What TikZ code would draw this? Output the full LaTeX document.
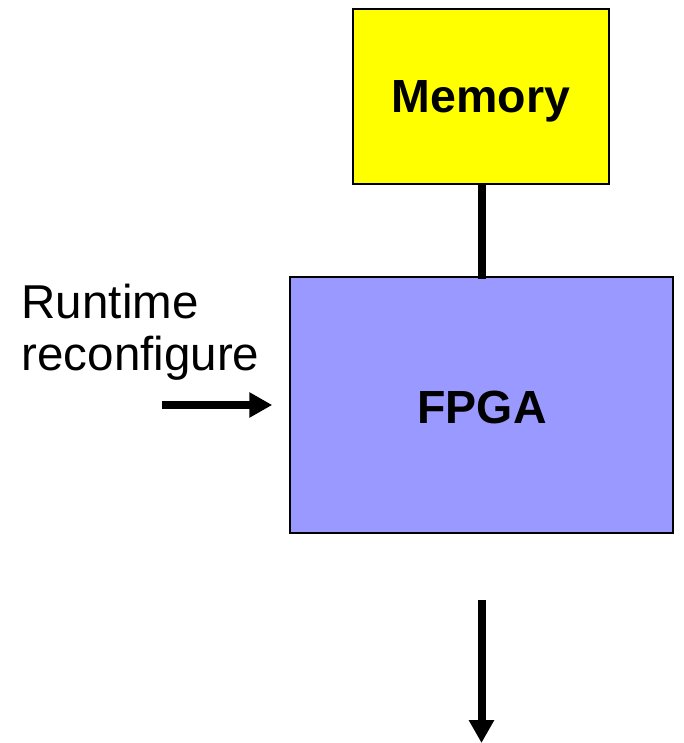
\documentclass[tikz,border=0pt]{standalone}
\usepackage{fontspec}
\setmainfont{Liberation Sans}
\usetikzlibrary{arrows.meta}
\definecolor{memyellow}{RGB}{255,255,0}
\definecolor{fpgablue}{RGB}{153,153,255}
\begin{document}
\begin{tikzpicture}[x=1pt,y=-1pt,
  box/.style={draw=black, line width=1.5pt, rectangle, inner sep=0pt},
  bigtext/.style={font=\fontsize{47.5}{52}\selectfont},
  boldtext/.style={font=\fontsize{46.5}{52}\selectfont\bfseries},
  wire/.style={line width=8pt},
  arr/.style={line width=7.5pt, -{Triangle[length=23pt,width=24pt]}}]
\useasboundingbox (0,0) rectangle (683,743);
\node[box, fill=memyellow, minimum width=256pt, minimum height=175pt] (mem) at (481,96.5) {};
\node[box, fill=fpgablue, minimum width=383pt, minimum height=256pt] (fpga) at (481.5,405) {};
\node[boldtext, anchor=base, inner sep=0pt] (memt) at (481,113) {Memory};
\node[boldtext, anchor=base, inner sep=0pt] (fpgat) at (482,423) {FPGA};
\node[bigtext, anchor=base west, inner sep=0pt] (rt1) at (21.5,318) {Runtime};
\node[bigtext, anchor=base west, inner sep=0pt] (rt2) at (21.5,370) {reconfigure};
\draw[wire] (mem.south -| 481.5,0) -- ([yshift=-3pt]fpga.north -| 481.5,0);
\coordinate (rtin) at (162,405);
\draw[arr] (rtin) -- ([xshift=-17pt]fpga.west);
\coordinate (outs) at (481.5,600);
\coordinate (oute) at (481.5,743);
\draw[arr, line width=8pt] (outs) -- (oute);
\end{tikzpicture}
\end{document}
